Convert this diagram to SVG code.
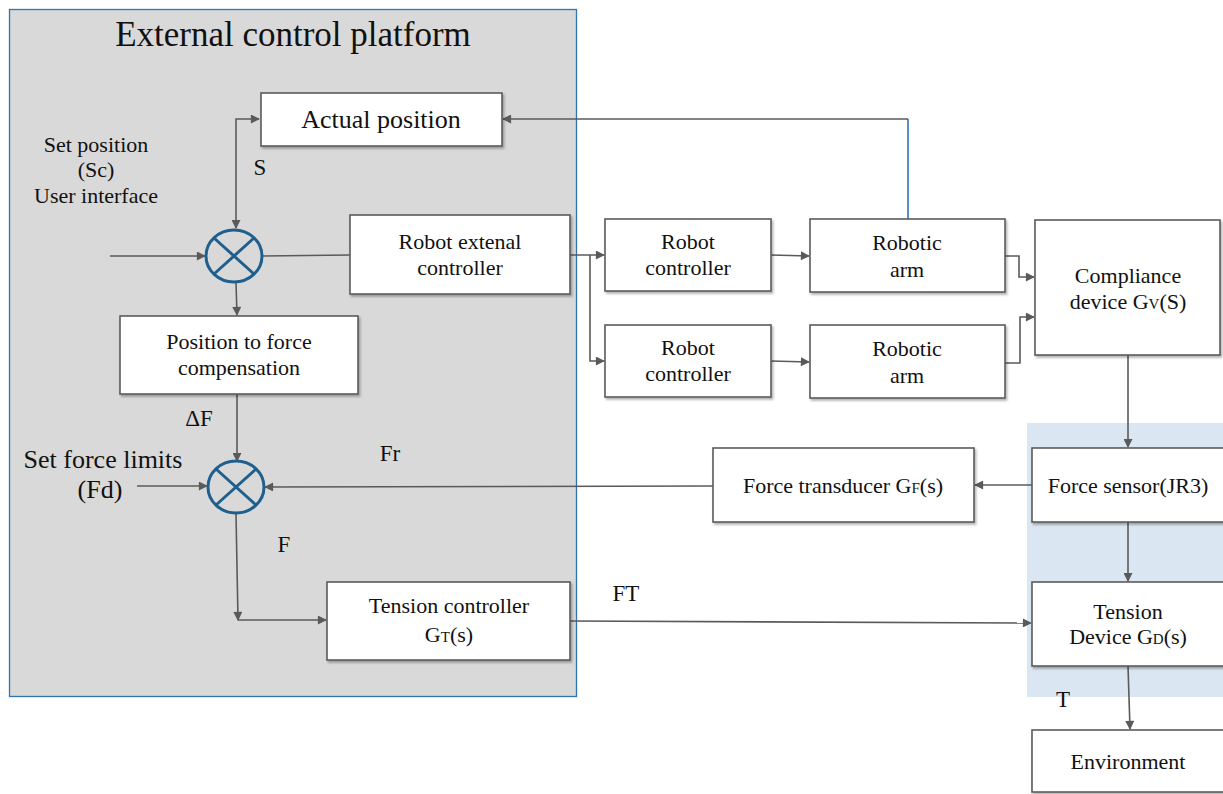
<svg xmlns="http://www.w3.org/2000/svg" width="1223" height="794" viewBox="0 0 1223 794">
<style>
text{font-family:"Liberation Serif","Times New Roman",serif;fill:#111;text-anchor:middle}
.box{fill:#fff;stroke:#5a5a5a;stroke-width:1.6;filter:url(#sh)}
.ln{fill:none;stroke:#5a5a5a;stroke-width:1.6}
.sum{fill:none;stroke:#1f5f8e;stroke-width:3}
.t{font-size:22px}
.sub{font-size:15px}
</style>
<defs>
<marker id="a" viewBox="0 0 10 10" refX="9" refY="5" markerWidth="10" markerHeight="9" orient="auto-start-reverse" markerUnits="userSpaceOnUse">
<path d="M0,0 L10,5 L0,10 z" fill="#5a5a5a"/>
</marker>
<filter id="sh" x="-5%" y="-5%" width="115%" height="120%">
<feDropShadow dx="1.5" dy="2" stdDeviation="1.2" flood-color="#000" flood-opacity="0.3"/>
</filter>
</defs>
<rect x="1027" y="423" width="196" height="274" fill="#dae6f1"/>
<g id="platform">
<rect x="9.5" y="9.5" width="567" height="687" fill="#d9d9d9" stroke="#2e75b6" stroke-width="1.3"/>
<text x="293" y="46" style="font-size:35px">External control platform</text>
</g>
<g id="labels">
<text x="96" y="152" style="font-size:22px">Set position</text>
<text x="96" y="177" style="font-size:22px">(Sc)</text>
<text x="96" y="203" style="font-size:22px">User interface</text>
<text x="260" y="175" style="font-size:23px">S</text>
<text x="199" y="426" style="font-size:23px">ΔF</text>
<text x="103" y="468" style="font-size:26px">Set force limits</text>
<text x="100" y="498" style="font-size:26px">(Fd)</text>
<text x="390" y="461" style="font-size:23px">Fr</text>
<text x="284" y="552" style="font-size:23px">F</text>
<text x="626" y="601" style="font-size:23px">FT</text>
<text x="1063" y="707" style="font-size:23px">T</text>
</g>
<g id="connectors">
<path class="ln" d="M236,228 L236,119 L259,119" marker-start="url(#a)" marker-end="url(#a)"/>
<path class="ln" d="M110,256 L205,256" marker-end="url(#a)"/>
<path class="ln" d="M263,256 L350,255"/>
<path class="ln" d="M236,283 L237,315" marker-end="url(#a)"/>
<path class="ln" d="M237,394 L237,461" marker-end="url(#a)"/>
<path class="ln" d="M137,486 L207,486" marker-end="url(#a)"/>
<path class="ln" d="M713,486 L265,487" marker-end="url(#a)"/>
<path class="ln" d="M236,514 L238,620" marker-end="url(#a)"/>
<path class="ln" d="M238,620 L326,620" marker-end="url(#a)"/>
<path class="ln" d="M570,621 L1031,623" marker-end="url(#a)"/>
<path class="ln" d="M570,255 L604,255" marker-end="url(#a)"/>
<path class="ln" d="M590,255 L590,361 L604,361" marker-end="url(#a)"/>
<path class="ln" d="M771,255 L809,256" marker-end="url(#a)"/>
<path class="ln" d="M771,361 L809,362" marker-end="url(#a)"/>
<path class="ln" d="M1003,256 L1019,256 L1019,277 L1034,277" marker-end="url(#a)"/>
<path class="ln" d="M1005,363 L1020,363 L1020,317 L1034,317" marker-end="url(#a)"/>
<path d="M908,219 L908,119" fill="none" stroke="#2e75b6" stroke-width="1.6"/>
<path class="ln" d="M908,119 L503,119" marker-end="url(#a)"/>
<path class="ln" d="M1128,355 L1128,447" marker-end="url(#a)"/>
<path class="ln" d="M1032,485 L975,485" marker-end="url(#a)"/>
<path class="ln" d="M1128,522 L1128,581" marker-end="url(#a)"/>
<path class="ln" d="M1128,666 L1130,729" marker-end="url(#a)"/>
</g>
<g id="sum1">
<ellipse class="sum" cx="234" cy="256" rx="28" ry="26"/>
<path class="sum" d="M214,238 L254,274 M254,238 L214,274"/>
</g>
<g id="sum2">
<ellipse class="sum" cx="236" cy="487" rx="28" ry="26"/>
<path class="sum" d="M216,469 L256,505 M256,469 L216,505"/>
</g>
<g id="actual">
<rect class="box" x="261" y="93" width="241" height="53"/>
<text x="381" y="128" style="font-size:26px">Actual position</text>
</g>
<g id="extctrl">
<rect class="box" x="350" y="215" width="220" height="79"/>
<text class="t" x="460" y="249">Robot extenal</text>
<text class="t" x="460" y="275">controller</text>
</g>
<g id="p2f">
<rect class="box" x="120" y="316" width="238" height="78"/>
<text class="t" x="239" y="349">Position to force</text>
<text class="t" x="239" y="375">compensation</text>
</g>
<g id="tensionctrl">
<rect class="box" x="327" y="582" width="243" height="78"/>
<text class="t" x="449" y="613">Tension controller</text>
<text class="t" x="449" y="642">G<tspan class="sub">T</tspan>(s)</text>
</g>
<g id="rc1">
<rect class="box" x="605" y="219" width="166" height="72"/>
<text class="t" x="688" y="249">Robot</text>
<text class="t" x="688" y="275">controller</text>
</g>
<g id="rc2">
<rect class="box" x="605" y="325" width="166" height="72"/>
<text class="t" x="688" y="355">Robot</text>
<text class="t" x="688" y="381">controller</text>
</g>
<g id="arm1">
<rect class="box" x="810" y="219" width="195" height="73"/>
<text class="t" x="907" y="250">Robotic</text>
<text class="t" x="907" y="277">arm</text>
</g>
<g id="arm2">
<rect class="box" x="810" y="325" width="195" height="73"/>
<text class="t" x="907" y="356">Robotic</text>
<text class="t" x="907" y="383">arm</text>
</g>
<g id="compliance">
<rect class="box" x="1035" y="220" width="185" height="135"/>
<text class="t" x="1128" y="283">Compliance</text>
<text class="t" x="1128" y="309">device G<tspan class="sub">V</tspan>(S)</text>
</g>
<g id="transducer">
<rect class="box" x="713" y="448" width="261" height="74"/>
<text class="t" x="843" y="493">Force transducer G<tspan class="sub">F</tspan>(s)</text>
</g>
<g id="sensor">
<rect class="box" x="1032" y="448" width="195" height="74"/>
<text class="t" x="1128" y="493">Force sensor(JR3)</text>
</g>
<g id="tensiondev">
<rect class="box" x="1032" y="582" width="195" height="84"/>
<text class="t" x="1128" y="619">Tension</text>
<text class="t" x="1128" y="644">Device G<tspan class="sub">D</tspan>(s)</text>
</g>
<g id="env">
<rect class="box" x="1032" y="730" width="195" height="62"/>
<text class="t" x="1128" y="769">Environment</text>
</g>
</svg>
